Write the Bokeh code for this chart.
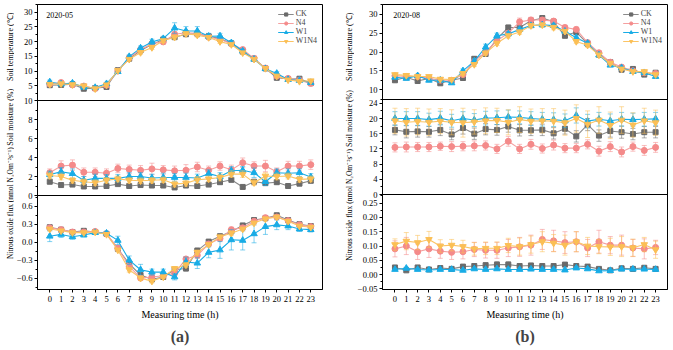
from bokeh.plotting import figure
from bokeh.models import (Range1d, LinearAxis, FixedTicker, Span, Label, Title,
                          ColumnDataSource)
from bokeh.layouts import row
from bokeh.embed import file_html
from bokeh.resources import INLINE
import math

hours = [0, 1, 2, 3, 4, 5, 6, 7, 8, 9, 10, 11, 12, 13, 14, 15, 16, 17, 18, 19, 20, 21, 22, 23]
treatments = ["CK", "N4", "W1", "W1N4"]

# ---------------- panel (a) 2020-05 ----------------
a_temp_ck = [5.2, 5.3, 5.5, 4.0, 4.2, 4.6, 10.3, 14.2, 17.0, 19.0, 20.7, 21.5, 22.5, 22.7, 21.8, 21.0, 19.4, 16.6, 14.2, 10.9, 7.7, 7.3, 7.4, 5.9]
a_temp_n4 = [5.6, 6.1, 5.3, 4.9, 4.1, 5.2, 10.0, 14.5, 17.3, 19.3, 19.9, 22.5, 23.0, 22.8, 21.5, 20.8, 19.3, 17.3, 14.3, 11.0, 8.3, 7.5, 6.9, 5.8]
a_temp_w1 = [6.3, 5.6, 5.9, 4.5, 4.4, 5.7, 9.8, 14.9, 17.8, 19.9, 21.0, 24.6, 23.6, 23.6, 21.8, 21.9, 19.6, 16.8, 14.0, 10.8, 9.2, 7.1, 6.8, 6.1]
a_temp_w1n4 = [5.5, 5.7, 5.4, 5.0, 4.0, 5.3, 10.2, 14.0, 16.3, 18.0, 20.3, 21.5, 22.7, 22.2, 21.4, 20.0, 19.0, 16.2, 14.0, 10.9, 8.3, 7.0, 6.5, 6.7]
a_temp_ck_e = [0.4, 0.3, 0.3, 0.4, 0.3, 0.4, 0.5, 0.5, 0.5, 0.6, 0.6, 0.6, 0.6, 0.6, 0.5, 0.5, 0.5, 0.5, 0.4, 0.4, 0.4, 0.4, 0.4, 0.4]
a_temp_n4_e = [0.4, 0.5, 0.4, 0.4, 0.3, 0.4, 0.5, 0.5, 0.6, 0.7, 0.7, 0.8, 0.7, 0.7, 0.6, 0.6, 0.5, 0.5, 0.5, 0.4, 0.4, 0.4, 0.4, 0.4]
a_temp_w1_e = [0.6, 0.4, 0.4, 0.5, 0.4, 0.5, 0.6, 0.6, 0.7, 0.9, 0.8, 1.8, 1.5, 1.5, 1.0, 0.9, 0.7, 0.6, 0.5, 0.5, 0.6, 0.4, 0.4, 0.4]
a_temp_w1n4_e = [0.4, 0.4, 0.4, 0.4, 0.3, 0.4, 0.5, 0.5, 0.6, 0.7, 0.6, 0.7, 0.7, 0.7, 0.6, 0.6, 0.5, 0.5, 0.5, 0.4, 0.4, 0.4, 0.4, 0.4]

a_moist_ck = [1.45, 1.1, 1.15, 0.95, 0.95, 1.0, 1.2, 1.0, 1.1, 1.05, 1.05, 0.85, 1.05, 1.0, 1.15, 1.4, 1.65, 0.9, 1.45, 1.3, 1.4, 1.0, 1.25, 1.55]
a_moist_n4 = [2.4, 3.1, 3.2, 2.45, 2.45, 2.35, 2.85, 2.75, 2.65, 2.8, 2.7, 2.6, 2.65, 3.0, 2.65, 3.1, 2.7, 3.45, 3.1, 3.1, 2.5, 3.1, 3.1, 3.25]
a_moist_w1 = [2.2, 2.5, 2.3, 1.6, 1.8, 1.8, 1.8, 2.0, 2.0, 1.85, 1.9, 1.9, 1.9, 1.85, 2.3, 2.0, 2.6, 2.65, 2.4, 1.45, 2.4, 2.35, 2.4, 1.95]
a_moist_w1n4 = [2.1, 2.0, 1.6, 1.45, 1.35, 1.6, 1.75, 1.6, 1.55, 1.6, 1.65, 1.2, 1.3, 1.65, 1.75, 1.9, 2.25, 2.25, 1.35, 2.05, 2.0, 2.05, 1.7, 1.75]
a_moist_ck_e = [0.2, 0.15, 0.15, 0.15, 0.15, 0.15, 0.15, 0.15, 0.15, 0.15, 0.15, 0.1, 0.15, 0.15, 0.15, 0.2, 0.2, 0.15, 0.2, 0.2, 0.2, 0.15, 0.15, 0.2]
a_moist_n4_e = [0.4, 0.55, 0.55, 0.45, 0.45, 0.45, 0.45, 0.45, 0.5, 0.6, 0.45, 0.5, 0.6, 0.5, 0.45, 0.45, 0.5, 0.5, 0.45, 0.6, 0.4, 0.5, 0.5, 0.5]
a_moist_w1_e = [0.35, 0.45, 0.5, 0.4, 0.45, 0.4, 0.4, 0.4, 0.4, 0.4, 0.45, 0.4, 0.45, 0.4, 0.4, 0.4, 0.45, 0.4, 0.5, 0.4, 0.4, 0.45, 0.4, 0.35]
a_moist_w1n4_e = [0.35, 0.35, 0.3, 0.3, 0.3, 0.3, 0.3, 0.3, 0.3, 0.3, 0.3, 0.3, 0.3, 0.35, 0.3, 0.35, 0.35, 0.35, 0.3, 0.35, 0.35, 0.3, 0.3, 0.3]

a_flux_ck = [0.25, 0.21, 0.17, 0.19, 0.17, 0.14, -0.11, -0.36, -0.55, -0.62, -0.58, -0.46, -0.44, -0.14, 0.01, 0.10, 0.18, 0.28, 0.37, 0.40, 0.45, 0.37, 0.30, 0.27]
a_flux_n4 = [0.24, 0.21, 0.17, 0.17, 0.18, 0.14, -0.10, -0.40, -0.60, -0.58, -0.56, -0.52, -0.28, -0.22, -0.03, 0.06, 0.21, 0.24, 0.35, 0.41, 0.42, 0.36, 0.29, 0.26]
a_flux_w1 = [0.10, 0.13, 0.09, 0.12, 0.16, 0.15, 0.03, -0.30, -0.46, -0.50, -0.50, -0.58, -0.33, -0.35, -0.17, -0.13, 0.04, 0.03, 0.14, 0.26, 0.29, 0.27, 0.22, 0.21]
a_flux_w1n4 = [0.22, 0.19, 0.16, 0.16, 0.17, 0.13, -0.13, -0.46, -0.60, -0.65, -0.58, -0.44, -0.38, -0.17, -0.04, 0.09, 0.15, 0.22, 0.32, 0.39, 0.42, 0.35, 0.27, 0.25]
a_flux_ck_e = [0.03, 0.02, 0.02, 0.02, 0.02, 0.02, 0.03, 0.04, 0.04, 0.03, 0.03, 0.04, 0.04, 0.04, 0.03, 0.03, 0.03, 0.03, 0.03, 0.03, 0.03, 0.03, 0.02, 0.02]
a_flux_n4_e = [0.03, 0.02, 0.02, 0.02, 0.02, 0.02, 0.04, 0.04, 0.04, 0.04, 0.03, 0.04, 0.04, 0.05, 0.04, 0.04, 0.04, 0.03, 0.03, 0.03, 0.03, 0.03, 0.03, 0.02]
a_flux_w1_e = [0.09, 0.05, 0.04, 0.03, 0.02, 0.03, 0.07, 0.07, 0.09, 0.05, 0.05, 0.05, 0.08, 0.09, 0.09, 0.14, 0.17, 0.16, 0.15, 0.13, 0.08, 0.06, 0.04, 0.04]
a_flux_w1n4_e = [0.03, 0.02, 0.02, 0.02, 0.02, 0.02, 0.03, 0.04, 0.04, 0.03, 0.03, 0.03, 0.04, 0.04, 0.03, 0.03, 0.04, 0.03, 0.03, 0.03, 0.03, 0.03, 0.02, 0.02]

# ---------------- panel (b) 2020-08 ----------------
b_temp_ck = [12.5, 13.3, 12.3, 13.0, 11.7, 12.5, 13.1, 18.2, 19.5, 23.5, 26.5, 26.5, 28.3, 29.0, 28.0, 24.3, 25.3, 22.2, 19.3, 17.3, 15.3, 15.5, 14.0, 14.5]
b_temp_n4 = [13.7, 13.5, 13.5, 13.0, 12.5, 12.5, 14.0, 17.5, 20.0, 23.0, 25.0, 28.0, 28.5, 28.5, 28.2, 26.5, 26.0, 22.5, 19.8, 17.3, 16.0, 15.0, 14.5, 14.3]
b_temp_w1 = [13.3, 13.0, 13.7, 12.5, 12.5, 11.8, 15.0, 17.6, 21.3, 24.3, 24.8, 26.0, 27.0, 27.2, 27.0, 25.5, 23.8, 22.3, 19.2, 16.5, 15.8, 14.8, 14.5, 13.5]
b_temp_w1n4 = [14.0, 13.8, 13.5, 13.5, 12.8, 12.7, 14.3, 16.7, 19.7, 22.3, 24.3, 25.3, 27.0, 27.2, 26.5, 25.5, 22.8, 21.8, 19.2, 17.0, 15.5, 14.8, 14.8, 14.0]
b_temp_ck_e = [0.5, 0.4, 0.4, 0.4, 0.4, 0.4, 0.5, 0.6, 0.6, 0.6, 0.6, 0.6, 0.6, 0.6, 0.6, 0.5, 0.5, 0.5, 0.5, 0.4, 0.4, 0.4, 0.4, 0.4]
b_temp_n4_e = [0.4, 0.4, 0.4, 0.4, 0.4, 0.4, 0.5, 0.5, 0.6, 0.6, 0.7, 1.0, 0.7, 0.6, 0.6, 0.6, 0.6, 0.5, 0.5, 0.4, 0.4, 0.4, 0.4, 0.4]
b_temp_w1_e = [0.4, 0.4, 0.4, 0.4, 0.4, 0.4, 0.5, 0.5, 0.8, 0.7, 0.6, 0.6, 0.6, 0.6, 0.6, 0.5, 0.5, 0.5, 0.5, 0.4, 0.4, 0.4, 0.4, 0.4]
b_temp_w1n4_e = [0.4, 0.4, 0.4, 0.4, 0.4, 0.4, 0.5, 0.5, 0.6, 0.6, 0.6, 0.6, 0.6, 0.6, 0.6, 0.5, 0.5, 0.5, 0.5, 0.4, 0.4, 0.4, 0.4, 0.4]

b_moist_ck = [17.0, 16.5, 16.6, 16.5, 17.0, 15.8, 17.5, 16.0, 17.2, 17.0, 17.9, 16.9, 16.9, 17.0, 16.1, 17.3, 15.3, 18.4, 15.5, 16.7, 16.4, 15.9, 16.4, 16.4]
b_moist_n4 = [12.4, 12.5, 12.5, 12.5, 12.7, 12.6, 12.7, 12.8, 12.9, 12.0, 14.0, 12.0, 13.2, 12.1, 13.0, 12.2, 12.2, 13.2, 11.4, 12.6, 11.2, 12.6, 11.6, 12.4]
b_moist_w1 = [20.0, 20.0, 20.0, 19.7, 20.1, 19.4, 20.0, 19.6, 20.1, 20.2, 20.4, 20.3, 20.0, 19.8, 19.7, 19.4, 20.8, 19.3, 19.8, 19.4, 19.8, 19.7, 19.8, 19.9]
b_moist_w1n4 = [19.4, 19.0, 19.2, 19.0, 19.3, 19.0, 18.9, 19.1, 19.4, 19.5, 19.0, 19.7, 19.3, 19.4, 19.3, 18.9, 20.0, 18.5, 19.6, 18.2, 19.6, 18.3, 19.4, 18.9]
b_moist_ck_e = [1.3, 1.6, 1.5, 1.4, 1.5, 1.4, 1.6, 1.5, 1.5, 1.4, 1.5, 1.5, 1.4, 1.5, 1.5, 1.4, 1.5, 1.6, 1.5, 1.6, 1.6, 1.5, 1.5, 1.5]
b_moist_n4_e = [1.2, 1.3, 1.2, 1.2, 1.1, 1.3, 1.2, 1.3, 1.2, 1.2, 1.3, 1.2, 1.3, 1.2, 1.3, 1.2, 1.2, 1.2, 1.3, 1.3, 1.3, 1.2, 1.3, 1.3]
b_moist_w1_e = [1.8, 1.8, 1.8, 1.7, 1.8, 1.7, 1.8, 1.7, 1.8, 1.8, 1.8, 1.7, 1.8, 1.8, 1.8, 1.8, 2.0, 1.8, 1.8, 1.8, 1.8, 1.7, 1.8, 1.7]
b_moist_w1n4_e = [3.3, 3.6, 3.5, 3.5, 3.3, 3.3, 3.8, 3.2, 3.4, 3.2, 3.3, 3.4, 3.2, 3.2, 3.3, 3.3, 3.6, 3.5, 3.5, 3.5, 3.5, 3.2, 3.3, 3.3]

b_flux_ck = [0.025, 0.015, 0.025, 0.018, 0.023, 0.020, 0.028, 0.030, 0.033, 0.035, 0.035, 0.030, 0.032, 0.030, 0.030, 0.035, 0.030, 0.028, 0.020, 0.015, 0.022, 0.020, 0.024, 0.020]
b_flux_n4 = [0.090, 0.100, 0.080, 0.090, 0.082, 0.078, 0.080, 0.088, 0.085, 0.085, 0.093, 0.097, 0.103, 0.123, 0.118, 0.112, 0.115, 0.093, 0.115, 0.103, 0.103, 0.093, 0.090, 0.095]
b_flux_w1 = [0.018, 0.022, 0.018, 0.016, 0.018, 0.018, 0.015, 0.020, 0.018, 0.020, 0.018, 0.018, 0.019, 0.018, 0.018, 0.016, 0.023, 0.020, 0.013, 0.014, 0.019, 0.019, 0.019, 0.018]
b_flux_w1n4 = [0.105, 0.117, 0.112, 0.123, 0.100, 0.103, 0.098, 0.090, 0.092, 0.092, 0.102, 0.098, 0.105, 0.115, 0.110, 0.103, 0.115, 0.100, 0.098, 0.097, 0.098, 0.094, 0.105, 0.087]
b_flux_ck_e = [0.005, 0.005, 0.005, 0.004, 0.005, 0.004, 0.006, 0.008, 0.008, 0.010, 0.010, 0.008, 0.007, 0.007, 0.006, 0.006, 0.006, 0.006, 0.005, 0.004, 0.005, 0.004, 0.005, 0.004]
b_flux_n4_e = [0.028, 0.030, 0.027, 0.030, 0.025, 0.025, 0.025, 0.025, 0.027, 0.028, 0.030, 0.033, 0.035, 0.035, 0.037, 0.038, 0.035, 0.030, 0.040, 0.030, 0.035, 0.030, 0.035, 0.025]
b_flux_w1_e = [0.004, 0.004, 0.004, 0.004, 0.004, 0.004, 0.004, 0.004, 0.004, 0.004, 0.004, 0.004, 0.004, 0.004, 0.004, 0.004, 0.005, 0.004, 0.004, 0.004, 0.004, 0.004, 0.004, 0.004]
b_flux_w1n4_e = [0.020, 0.030, 0.025, 0.028, 0.022, 0.020, 0.022, 0.022, 0.022, 0.022, 0.025, 0.030, 0.030, 0.035, 0.030, 0.035, 0.035, 0.030, 0.025, 0.030, 0.035, 0.030, 0.025, 0.030]

# axis texts
temp_label = "Soil temperature (\u2103)"
moist_label = "Soil moisture (%)"
flux_label = "Nitrous oxide flux (nmol N\u2082Om\u207b\u00b2s\u207b\u00b9)"
x_label = "Measuring time (h)"

FONT = "Liberation Serif"
STYLE = {
    "CK": dict(color="#6a6a6a", line="#8a8a8a", marker="square", size=5),
    "N4": dict(color="#f48a8a", line="#f5a0a0", marker="circle", size=6),
    "W1": dict(color="#18ace6", line="#18ace6", marker="triangle", size=6.5),
    "W1N4": dict(color="#fbbf55", line="#fbc465", marker="inverted_triangle", size=6.5),
}
TOP = 4


def tick_text(v, dec):
    s = f"{abs(v):.{dec}f}"
    return ("\u2212" + s) if v < -1e-12 else s


def make_panel(bands, xr, strip_w, left, right, bottom, tag, date, date_xy, ylab_x):
    total = sum(b["px"] for b in bands)
    below = total
    for b in bands:
        below -= b["px"]
        b["below"] = below
        per_px = (b["hi"] - b["lo"]) / b["px"]
        start = b["lo"] - below * per_px
        b["range"] = Range1d(start, start + total * per_px)

    def pos(b, v):
        return b["below"] + (v - b["lo"]) / (b["hi"] - b["lo"]) * b["px"]

    height = TOP + total + bottom
    p = figure(width=left + xr[2] + right, height=height,
               x_range=Range1d(xr[0], xr[1]), y_range=Range1d(0, total),
               y_axis_location=None, output_backend="svg", toolbar_location=None,
               min_border_left=left, min_border_right=right, min_border_top=TOP,
               min_border_bottom=bottom)
    p.extra_y_ranges = {b["name"]: b["range"] for b in bands}
    p.grid.visible = False
    p.outline_line_color = "black"
    p.outline_line_width = 1
    p.outline_line_alpha = 1

    # narrow strip on the left that carries the three y-axis titles
    s = figure(width=strip_w, height=height, x_range=Range1d(0, strip_w),
               y_range=Range1d(-bottom, total + TOP), x_axis_location=None,
               y_axis_location=None, output_backend="svg", toolbar_location=None,
               min_border=0, min_border_left=0, min_border_right=0,
               min_border_top=0, min_border_bottom=0)
    s.grid.visible = False
    s.outline_line_color = None

    # combined left axis: ticks of every band, placed through each band's own scale
    major, minor, overrides = [], [], {}
    for b in bands:
        for v in b["ticks"]:
            t = pos(b, v)
            major.append(t)
            overrides[t] = tick_text(v, b["dec"])
        for v in b["minor"]:
            minor.append(pos(b, v))
    ax = LinearAxis(ticker=FixedTicker(ticks=major, minor_ticks=minor),
                    major_label_overrides=overrides)
    ax.axis_line_color = "black"
    ax.major_tick_out = 3
    ax.major_tick_in = 0
    ax.minor_tick_out = 2
    ax.minor_tick_in = 0
    ax.major_label_standoff = 2
    ax.major_label_text_font = FONT
    ax.major_label_text_font_size = "8.5px"
    ax.major_label_text_color = "black"
    p.add_layout(ax, "left")

    for i, b in enumerate(bands):
        rn = b["name"]
        if i < len(bands) - 1:
            p.add_layout(Span(location=b["lo"], dimension="width", y_range_name=rn,
                              line_color="black", line_width=1))
        s.add_layout(Label(x=ylab_x, y=pos(b, (b["lo"] + b["hi"]) / 2) + b["lab_dy"],
                           text=b["label"], angle=math.pi / 2,
                           text_font=FONT, text_font_size=b["lab_size"],
                           text_align="center", text_baseline="middle", text_color="black"))

        for t in treatments:
            st = STYLE[t]
            y = b["data"][t]
            e = b["err"][t]
            src = ColumnDataSource(dict(x=hours, y=y,
                                        lo=[v - d for v, d in zip(y, e)],
                                        hi=[v + d for v, d in zip(y, e)]))
            p.segment(x0="x", y0="lo", x1="x", y1="hi", source=src, y_range_name=rn,
                      line_color=st["color"], line_alpha=0.55, line_width=1)
            for end in ("lo", "hi"):
                p.scatter(x="x", y=end, source=src, y_range_name=rn, marker="dash", size=5,
                          line_color=st["color"], line_alpha=0.55, line_width=1)
            kw = dict(legend_label=t) if i == 0 else {}
            p.line(x="x", y="y", source=src, y_range_name=rn, line_color=st["line"],
                   line_width=1.1, **kw)
            p.scatter(x="x", y="y", source=src, y_range_name=rn, marker=st["marker"],
                      size=st["size"], fill_color=st["color"], line_color=st["color"], **kw)

    xa = p.xaxis[0]
    xa.ticker = FixedTicker(ticks=hours)
    xa.major_tick_out = 3
    xa.major_tick_in = 0
    xa.minor_tick_line_color = None
    xa.axis_line_color = "black"
    xa.major_label_standoff = 3
    xa.major_label_text_font = FONT
    xa.major_label_text_font_size = "8.5px"
    xa.major_label_text_color = "black"
    xa.axis_label = x_label
    xa.axis_label_text_font = FONT
    xa.axis_label_text_font_size = "10px"
    xa.axis_label_text_font_style = "normal"
    xa.axis_label_text_color = "black"
    xa.axis_label_standoff = 4

    p.add_layout(Label(x=date_xy[0], y=date_xy[1], y_range_name=bands[0]["name"], text=date,
                       text_font=FONT, text_font_size="8px", text_baseline="middle",
                       text_color="black"))
    p.add_layout(Title(text=tag, align="center", text_font=FONT, text_font_size="16px",
                       text_font_style="bold", standoff=6), "below")

    lg = p.legend[0]
    lg.location = "top_right"
    lg.background_fill_alpha = 0
    lg.border_line_alpha = 0
    lg.label_text_font = FONT
    lg.label_text_font_size = "8px"
    lg.label_height = 8
    lg.glyph_height = 8
    lg.glyph_width = 16
    lg.spacing = 0
    lg.padding = 2
    lg.margin = 3
    lg.label_standoff = 2
    return s, p


bands_a = [
    dict(name="temp", lo=0, hi=32.6, px=96, ticks=[5, 10, 15, 20, 25, 30],
         minor=[2.5, 7.5, 12.5, 17.5, 22.5, 27.5, 32.5], dec=0, label=temp_label,
         lab_size="8px", lab_dy=0,
         data={"CK": a_temp_ck, "N4": a_temp_n4, "W1": a_temp_w1, "W1N4": a_temp_w1n4},
         err={"CK": a_temp_ck_e, "N4": a_temp_n4_e, "W1": a_temp_w1_e, "W1N4": a_temp_w1n4_e}),
    dict(name="moist", lo=0, hi=10, px=95, ticks=[0, 2, 4, 6, 8, 10],
         minor=[1, 3, 5, 7, 9], dec=0, label=moist_label, lab_size="8px", lab_dy=9,
         data={"CK": a_moist_ck, "N4": a_moist_n4, "W1": a_moist_w1, "W1N4": a_moist_w1n4},
         err={"CK": a_moist_ck_e, "N4": a_moist_n4_e, "W1": a_moist_w1_e, "W1N4": a_moist_w1n4_e}),
    dict(name="flux", lo=-0.79, hi=0.78, px=94, ticks=[-0.6, -0.3, 0.0, 0.3, 0.6],
         minor=[-0.75, -0.45, -0.15, 0.15, 0.45, 0.75], dec=1, label=flux_label,
         lab_size="7.5px", lab_dy=-2,
         data={"CK": a_flux_ck, "N4": a_flux_n4, "W1": a_flux_w1, "W1N4": a_flux_w1n4},
         err={"CK": a_flux_ck_e, "N4": a_flux_n4_e, "W1": a_flux_w1_e, "W1N4": a_flux_w1n4_e}),
]

bands_b = [
    dict(name="temp", lo=7.4, hi=32.6, px=96, ticks=[10, 15, 20, 25, 30],
         minor=[7.5, 12.5, 17.5, 22.5, 27.5, 32.5], dec=0, label=temp_label,
         lab_size="8px", lab_dy=0,
         data={"CK": b_temp_ck, "N4": b_temp_n4, "W1": b_temp_w1, "W1N4": b_temp_w1n4},
         err={"CK": b_temp_ck_e, "N4": b_temp_n4_e, "W1": b_temp_w1_e, "W1N4": b_temp_w1n4_e}),
    dict(name="moist", lo=0, hi=25.0, px=96, ticks=[0, 4, 8, 12, 16, 20, 24],
         minor=[2, 6, 10, 14, 18, 22], dec=0, label=moist_label, lab_size="8px", lab_dy=8,
         data={"CK": b_moist_ck, "N4": b_moist_n4, "W1": b_moist_w1, "W1N4": b_moist_w1n4},
         err={"CK": b_moist_ck_e, "N4": b_moist_n4_e, "W1": b_moist_w1_e, "W1N4": b_moist_w1n4_e}),
    dict(name="flux", lo=-0.052, hi=0.28, px=96, ticks=[-0.05, 0.0, 0.05, 0.10, 0.15, 0.20, 0.25],
         minor=[-0.025, 0.025, 0.075, 0.125, 0.175, 0.225, 0.275], dec=2, label=flux_label,
         lab_size="7.5px", lab_dy=-2,
         data={"CK": b_flux_ck, "N4": b_flux_n4, "W1": b_flux_w1, "W1N4": b_flux_w1n4},
         err={"CK": b_flux_ck_e, "N4": b_flux_n4_e, "W1": b_flux_w1_e, "W1N4": b_flux_w1n4_e}),
]

sa, pa = make_panel(bands_a, (-1.08, 24.03, 286), 14, 22, 18, 61, "(a)", "2020-05", (-0.3, 28.9), 9.5)
sb, pb = make_panel(bands_b, (-1.1, 24.05, 288), 14, 25, 6, 58, "(b)", "2020-08", (-0.15, 29.7), 9)

layout = row(sa, pa, sb, pb)
open("out.html", "w").write(file_html(layout, INLINE))
